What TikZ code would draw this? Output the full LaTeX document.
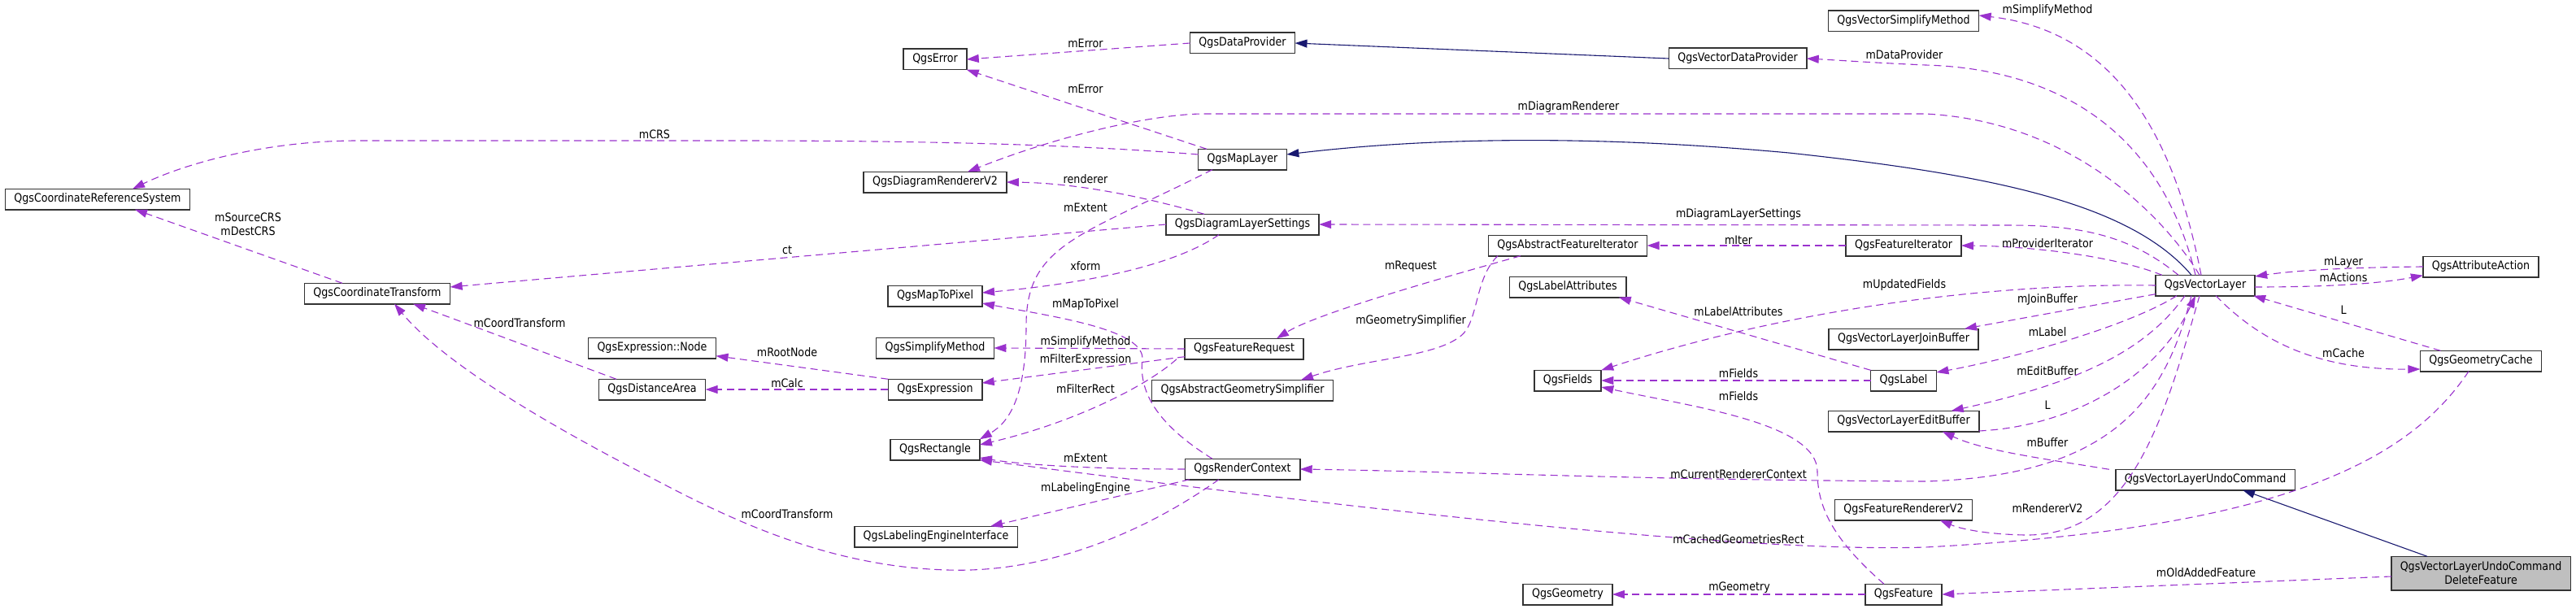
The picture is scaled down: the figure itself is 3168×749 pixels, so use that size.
\documentclass[tikz,border=0pt]{standalone}
\usepackage{fontspec}
\setmainfont{DejaVu Sans}[FakeStretch=0.88]
\usetikzlibrary{arrows.meta,calc}
\definecolor{orchid}{HTML}{9A32CD}
\definecolor{navy}{HTML}{191970}
\definecolor{boxgray}{HTML}{BFBFBF}
\definecolor{boxline}{HTML}{333333}
\newcommand{\dfont}{\fontsize{7.2}{8.6}\selectfont}

\begin{document}
\begin{tikzpicture}[x=0.5pt, y=-0.5pt,
    cls/.style={draw=boxline, line width=0.8pt, fill=white, font=\dfont, inner xsep=5.5pt, inner ysep=1pt, minimum height=12.7pt, outer sep=0pt},
    mem/.style={draw=orchid, line width=0.55pt, dash pattern=on 4.5pt off 2.8pt, -{Triangle[length=7.5pt,width=5pt]}},
    inh/.style={draw=navy, line width=0.55pt, -{Triangle[length=7.5pt,width=5pt]}},
    lbl/.style={font=\dfont, inner sep=0pt}]
    \useasboundingbox (0,0) rectangle (3168,749);

    \node[cls] (crs) at (120,245) {QgsCoordinateReferenceSystem};
    \node[cls] (ct) at (464,361) {QgsCoordinateTransform};
    \node[cls] (exprnode) at (802,428) {QgsExpression::Node};
    \node[cls] (distarea) at (802,479) {QgsDistanceArea};
    \node[cls] (error) at (1150,73) {QgsError};
    \node[cls] (diagrend) at (1150,224) {QgsDiagramRendererV2};
    \node[cls] (maptopixel) at (1150,364) {QgsMapToPixel};
    \node[cls] (simplify) at (1150,428) {QgsSimplifyMethod};
    \node[cls] (expr) at (1150,479) {QgsExpression};
    \node[cls] (rect) at (1150,553) {QgsRectangle};
    \node[cls] (labeling) at (1151,660) {QgsLabelingEngineInterface};
    \node[cls] (dataprov) at (1528,53) {QgsDataProvider};
    \node[cls] (maplayer) at (1528,196) {QgsMapLayer};
    \node[cls] (diaglayer) at (1528,276) {QgsDiagramLayerSettings};
    \node[cls] (request) at (1530,429) {QgsFeatureRequest};
    \node[cls] (geomsimp) at (1528,480) {QgsAbstractGeometrySimplifier};
    \node[cls] (renderctx) at (1528,577) {QgsRenderContext};
    \node[cls] (absiter) at (1928,302) {QgsAbstractFeatureIterator};
    \node[cls] (labelattr) at (1928,353) {QgsLabelAttributes};
    \node[cls] (fields) at (1928,468) {QgsFields};
    \node[cls] (geometry) at (1928,731) {QgsGeometry};
    \node[cls] (vecprov) at (2137,72) {QgsVectorDataProvider};
    \node[cls] (vecsimplify) at (2341,26) {QgsVectorSimplifyMethod};
    \node[cls] (featiter) at (2341,302) {QgsFeatureIterator};
    \node[cls] (joinbuf) at (2341,417) {QgsVectorLayerJoinBuffer};
    \node[cls] (label) at (2341,468) {QgsLabel};
    \node[cls] (editbuf) at (2341,518) {QgsVectorLayerEditBuffer};
    \node[cls] (rendv2) at (2341,627) {QgsFeatureRendererV2};
    \node[cls] (feature) at (2341,731) {QgsFeature};
    \node[cls] (veclayer) at (2712,351) {QgsVectorLayer};
    \node[cls] (undocmd) at (2712,590) {QgsVectorLayerUndoCommand};
    \node[cls] (action) at (3051,328) {QgsAttributeAction};
    \node[cls] (geomcache) at (3051,444) {QgsGeometryCache};
    \node[cls, fill=boxgray, align=center, minimum height=20.7pt] (delfeat) at (3051,705) {QgsVectorLayerUndoCommand\\DeleteFeature};

    \draw[inh] (vecprov.west) -- (dataprov.east);
    \draw[inh] ($(veclayer.north)+(-17,0)$) .. controls (2620,250) and (2450,215) .. (2200,188) .. controls (1950,165) and (1750,170) .. ($(maplayer.east)+(0,-6)$);
    \draw[inh] ($(delfeat.north)+(-66,0)$) -- ($(undocmd.south)+(46,0)$);

    \draw[mem] (dataprov.west) -- (error.east);
    \draw[mem] ($(maplayer.north)+(-44,0)$) -- (error.south east);
    \draw[mem] ($(maplayer.west)+(0,-6)$) .. controls (1300,176) and (1100,173) .. (900,173) -- (440,173) .. controls (330,173) and (230,200) .. ($(crs.north)+(43,0)$);
    \draw[mem] ($(maplayer.south)+(-37,0)$) .. controls (1330,290) and (1262,300) .. (1262,400) .. controls (1262,490) and (1240,520) .. (rect.north east);
    \draw[mem] ($(veclayer.north)+(-7,0)$) .. controls (2670,280) and (2560,150) .. (2368,140) -- (1480,140) .. controls (1430,140) and (1320,160) .. ($(diagrend.north)+(40,0)$);
    \draw[mem] ($(diaglayer.north)+(-47,0)$) .. controls (1400,240) and (1320,225) .. (diagrend.east);
    \draw[mem] (diaglayer.west) -- ($(ct.east)+(0,-8)$);
    \draw[mem] ($(diaglayer.south)+(-29,0)$) .. controls (1440,330) and (1320,350) .. ($(maptopixel.east)+(0,-4)$);
    \draw[mem] ($(ct.north)+(-43,0)$) -- ($(crs.south)+(46,0)$);
    \draw[mem] ($(distarea.north)+(-44,0)$) -- ($(ct.south)+(44,0)$);
    \draw[mem] ($(renderctx.south)+(-29,0)$) .. controls (1400,660) and (1280,705) .. (1165,701) .. controls (1020,697) and (900,640) .. (800,587) .. controls (650,510) and (540,440) .. ($(ct.south)+(21,0)$);
    \draw[mem] (expr.north west) -- ($(exprnode.south east)+(0,-3)$);
    \draw[mem] (expr.west) -- (distarea.east);
    \draw[mem] (request.west) -- (simplify.east);
    \draw[mem] ($(request.south west)+(0,-3)$) -- ($(expr.east)+(0,-8)$);
    \draw[mem] ($(request.south west)+(-10,0)$) .. controls (1410,475) and (1320,520) .. ($(rect.east)+(0,-6)$);
    \draw[mem] ($(renderctx.north)+(-37,0)$) .. controls (1420,520) and (1400,480) .. (1405,440) .. controls (1403,405) and (1300,390) .. ($(maptopixel.east)+(0,9)$);
    \draw[mem] (renderctx.west) .. controls (1350,577) and (1260,572) .. ($(rect.east)+(0,10)$);
    \draw[mem] ($(renderctx.south)+(-65,0)$) -- ($(labeling.north)+(67,0)$);
    \draw[mem] ($(absiter.south)+(-58,0)$) .. controls (1780,340) and (1620,385) .. ($(request.north)+(40,0)$);
    \draw[mem] ($(absiter.south)+(-86,0)$) .. controls (1815,340) and (1818,390) .. (1800,410) .. controls (1770,440) and (1680,440) .. ($(geomsimp.north)+(72,0)$);
    \draw[mem] (featiter.west) -- (absiter.east);
    \draw[mem] ($(veclayer.north)+(-5,0)$) .. controls (2680,200) and (2620,40) .. ($(vecsimplify.east)+(0,-7)$);
    \draw[mem] ($(veclayer.north)+(-12,0)$) .. controls (2660,170) and (2540,85) .. (2368,80) .. controls (2300,77) and (2260,74) .. (vecprov.east);
    \draw[mem] ($(veclayer.north)+(-33,0)$) .. controls (2620,290) and (2560,277) .. (2470,277) -- (diaglayer.east);
    \draw[mem] ($(veclayer.north west)+(8,0)$) .. controls (2600,315) and (2500,303) .. (featiter.east);
    \draw[mem] (veclayer.west) .. controls (2450,348) and (2200,380) .. (fields.north east);
    \draw[mem] ($(veclayer.south west)+(0,-2)$) -- ($(joinbuf.north east)+(-17,0)$);
    \draw[mem] ($(veclayer.south)+(-35,0)$) .. controls (2620,400) and (2480,440) .. ($(label.east)+(0,-10)$);
    \draw[mem] ($(veclayer.south)+(-25,0)$) .. controls (2640,430) and (2560,470) .. ($(editbuf.north east)+(-34,0)$);
    \draw[mem] ($(veclayer.south)+(-17,0)$) .. controls (2665,480) and (2610,585) .. (2368,592) .. controls (2000,590) and (1800,580) .. (renderctx.east);
    \draw[mem] ($(veclayer.south)+(-7,0)$) .. controls (2660,520) and (2620,660) .. (2490,658) .. controls (2440,657) and (2410,650) .. ($(rendv2.south east)+(-40,0)$);
    \draw[mem] ($(veclayer.east)+(0,2)$) .. controls (2850,353) and (2920,350) .. ($(action.south west)+(0,-2)$);
    \draw[mem] (action.west) .. controls (2880,329) and (2820,333) .. ($(veclayer.east)+(0,-11)$);
    \draw[mem] ($(veclayer.south)+(13,0)$) .. controls (2780,420) and (2850,455) .. ($(geomcache.west)+(0,10)$);
    \draw[mem] ($(geomcache.north west)+(25,0)$) -- ($(veclayer.south east)+(-2,0)$);
    \draw[mem] ($(editbuf.east)+(0,12)$) .. controls (2540,525) and (2650,470) .. ($(veclayer.south)+(-12,0)$);
    \draw[mem] ($(undocmd.north west)+(-8,0)$) .. controls (2520,565) and (2440,555) .. ($(editbuf.south east)+(-45,0)$);
    \draw[mem] ($(geomcache.south)+(-15,0)$) .. controls (2960,570) and (2800,650) .. (2368,673) .. controls (2150,680) and (1700,630) .. (rect.south east);
    \draw[mem] (label.north west) -- ($(labelattr.south east)+(-9,0)$);
    \draw[mem] (label.west) -- (fields.east);
    \draw[mem] ($(feature.north)+(-24,0)$) .. controls (2250,660) and (2235,620) .. (2235,580) .. controls (2235,520) and (2080,500) .. ($(fields.east)+(0,8)$);
    \draw[mem] (feature.west) -- (geometry.east);
    \draw[mem] ($(delfeat.west)+(0,4)$) -- (feature.east);

    \node[lbl] (lerr1) at (1335,53) {mError};
    \node[lbl] (lerr2) at (1335,109) {mError};
    \node[lbl] (lcrs) at (805,165) {mCRS};
    \node[lbl] (lext1) at (1335,255) {mExtent};
    \node[lbl] (ldiagr) at (1929,132) {mDiagramRenderer};
    \node[lbl] (lrend) at (1335,220) {renderer};
    \node[lbl] (lct) at (968,308) {ct};
    \node[lbl] (lxform) at (1335,327) {xform};
    \node[lbl, align=center] (lsrc) at (305,276) {mSourceCRS\\mDestCRS};
    \node[lbl] (lcoord1) at (639,397) {mCoordTransform};
    \node[lbl] (lcoord2) at (968,632) {mCoordTransform};
    \node[lbl] (lroot) at (968,433) {mRootNode};
    \node[lbl] (lcalc) at (968,471) {mCalc};
    \node[lbl] (lsimp1) at (1335,421) {mSimplifyMethod};
    \node[lbl] (lfexpr) at (1335,443) {mFilterExpression};
    \node[lbl] (lfrect) at (1335,478) {mFilterRect};
    \node[lbl] (lm2p) at (1335,375) {mMapToPixel};
    \node[lbl] (lext2) at (1335,563) {mExtent};
    \node[lbl] (lleng) at (1335,601) {mLabelingEngine};
    \node[lbl] (lreq) at (1735,328) {mRequest};
    \node[lbl] (lgsimp) at (1735,395) {mGeometrySimplifier};
    \node[lbl] (liter) at (2138,295) {mIter};
    \node[lbl] (lsimp2) at (2518,13) {mSimplifyMethod};
    \node[lbl] (ldprov) at (2342,67) {mDataProvider};
    \node[lbl] (ldls) at (2138,264) {mDiagramLayerSettings};
    \node[lbl] (lpiter) at (2518,299) {mProviderIterator};
    \node[lbl] (lufields) at (2342,351) {mUpdatedFields};
    \node[lbl] (ljoin) at (2518,368) {mJoinBuffer};
    \node[lbl] (llabel) at (2518,408) {mLabel};
    \node[lbl] (ledit) at (2518,456) {mEditBuffer};
    \node[lbl] (lcrc) at (2138,583) {mCurrentRendererContext};
    \node[lbl] (lrv2) at (2518,625) {mRendererV2};
    \node[lbl] (lactions) at (2882,341) {mActions};
    \node[lbl] (llayer) at (2882,323) {mLayer};
    \node[lbl] (lcache) at (2882,434) {mCache};
    \node[lbl] (lL1) at (2882,381) {L};
    \node[lbl] (lL2) at (2518,498) {L};
    \node[lbl] (lbuf) at (2518,544) {mBuffer};
    \node[lbl] (lcgr) at (2138,663) {mCachedGeometriesRect};
    \node[lbl] (llattr) at (2138,383) {mLabelAttributes};
    \node[lbl] (lfields1) at (2138,459) {mFields};
    \node[lbl] (lfields2) at (2138,487) {mFields};
    \node[lbl] (lgeom) at (2139,723) {mGeometry};
    \node[lbl] (lold) at (2713,704) {mOldAddedFeature};
\end{tikzpicture}
\end{document}
